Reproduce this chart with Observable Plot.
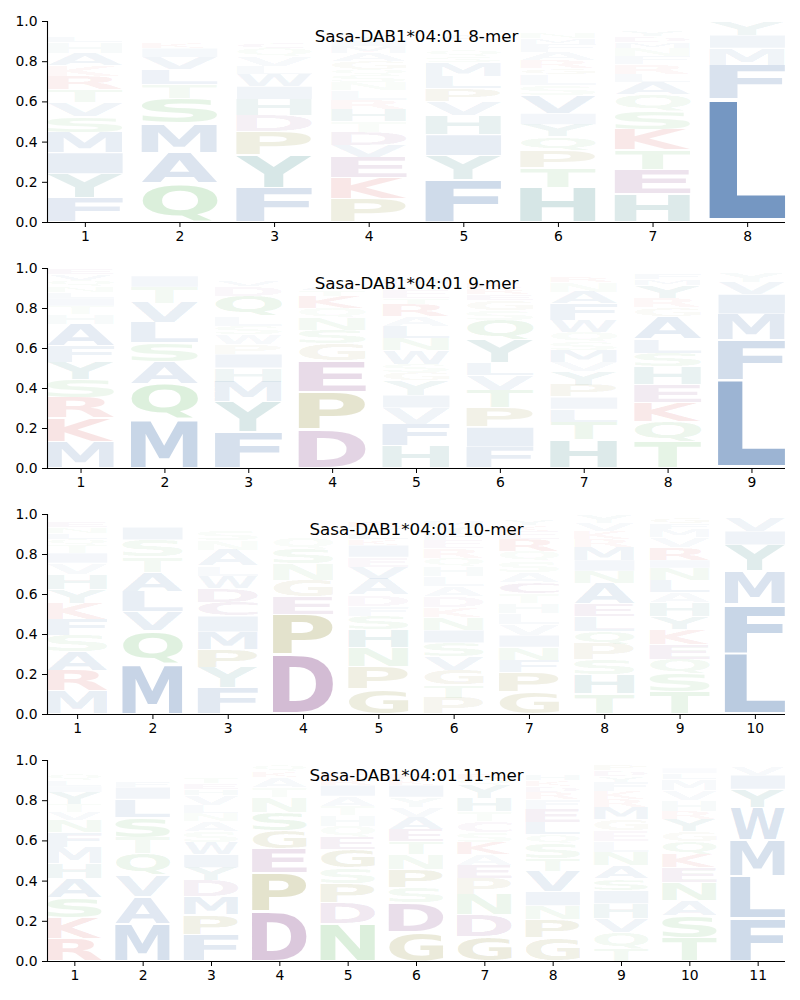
<!DOCTYPE html>
<html><head><meta charset="utf-8">
<script src="https://cdn.jsdelivr.net/npm/d3@7"></script>
<script src="https://cdn.jsdelivr.net/npm/@observablehq/plot@0.6"></script>
<style>body{margin:0;background:#fff;} #chart svg{display:block;}</style>
</head><body><div id="chart"></div>
<script>
const titles = ["Sasa-DAB1*04:01 8-mer", "Sasa-DAB1*04:01 9-mer", "Sasa-DAB1*04:01 10-mer", "Sasa-DAB1*04:01 11-mer"];

// letter stacks (bottom -> top) per position: [letter, probability]
const mer8 = [
  [["F",.12],["Y",.12],["I",.105],["M",.1],["S",.08],["V",.07],["T",.065],["R",.065],["K",.055],["A",.06],["H",.055],["L",.03],["E",.02],["G",.02],["N",.015],["Q",.01],["W",.01]],
  [["Q",.19],["A",.155],["M",.145],["S",.125],["T",.07],["L",.075],["V",.06],["I",.045],["K",.03],["N",.025],["G",.02],["F",.015],["Y",.02]],
  [["F",.17],["Y",.165],["P",.115],["D",.08],["H",.08],["I",.065],["W",.06],["L",.04],["V",.05],["Q",.04],["C",.03],["S",.02],["N",.02],["E",.015],["M",.02],["A",.015]],
  [["P",.115],["K",.105],["E",.1],["V",.06],["D",.065],["T",.055],["H",.06],["R",.045],["L",.05],["N",.04],["S",.035],["Q",.03],["G",.04],["A",.04],["M",.035],["I",.03],["Y",.03],["F",.025],["W",.02]],
  [["F",.21],["Y",.12],["I",.105],["H",.095],["V",.07],["P",.065],["L",.06],["M",.07],["S",.03],["Q",.03],["E",.025],["W",.025],["A",.03],["T",.025],["N",.02],["K",.02]],
  [["H",.17],["T",.1],["P",.085],["Q",.07],["Y",.06],["I",.055],["V",.09],["S",.05],["L",.055],["G",.03],["R",.04],["A",.04],["F",.04],["M",.03],["N",.03],["W",.025],["E",.015],["K",.015]],
  [["H",.14],["E",.12],["T",.1],["K",.1],["S",.09],["Q",.085],["A",.06],["L",.04],["R",.05],["F",.04],["N",.04],["M",.03],["D",.03],["Y",.03],["V",.02],["G",.025]],
  [["L",.61],["F",.17],["M",.085],["I",.065],["Y",.065]]
];
const mer9 = [
  [["M",.13],["K",.12],["R",.1],["S",.09],["Y",.09],["F",.08],["A",.11],["H",.05],["T",.04],["I",.04],["L",.03],["N",.03],["Q",.03],["V",.03],["E",.03]],
  [["M",.245],["Q",.175],["A",.11],["S",.095],["L",.1],["V",.1],["T",.08],["I",.055],["F",.015],["Y",.01]],
  [["F",.18],["Y",.15],["M",.1],["H",.07],["I",.07],["P",.05],["W",.05],["S",.04],["L",.05],["Q",.1],["D",.05],["V",.03],["T",.02],["N",.02]],
  [["D",.19],["P",.19],["E",.155],["G",.085],["S",.07],["N",.06],["Q",.05],["K",.06],["T",.03],["A",.03],["R",.02],["H",.02],["L",.02],["V",.02]],
  [["H",.11],["F",.11],["V",.08],["I",.065],["Y",.075],["G",.04],["S",.04],["W",.07],["N",.06],["L",.06],["A",.05],["R",.06],["T",.03],["E",.04],["Q",.03],["M",.03],["P",.02]],
  [["F",.105],["I",.1],["P",.095],["T",.09],["V",.075],["L",.06],["Y",.115],["Q",.1],["S",.05],["G",.05],["E",.03],["R",.03],["K",.03],["H",.025],["W",.025]],
  [["H",.14],["T",.09],["L",.065],["I",.06],["P",.06],["Y",.07],["V",.045],["M",.06],["S",.04],["Q",.05],["W",.06],["F",.08],["A",.06],["N",.05],["R",.03],["K",.02]],
  [["T",.13],["Q",.1],["K",.095],["E",.09],["H",.09],["S",.07],["L",.07],["A",.115],["G",.045],["R",.045],["Y",.065],["M",.03],["F",.03]],
  [["L",.44],["F",.2],["M",.13],["I",.1],["V",.06],["Y",.05]]
];
const mer10 = [
  [["M",.115],["R",.1],["A",.095],["S",.085],["F",.08],["K",.08],["Y",.07],["H",.075],["V",.055],["I",.05],["T",.04],["Q",.03],["L",.03],["N",.03],["E",.03],["G",.02]],
  [["M",.25],["Q",.165],["V",.095],["L",.1],["A",.1],["T",.075],["S",.085],["I",.065],["F",.015],["Y",.015]],
  [["F",.13],["Y",.1],["P",.09],["M",.09],["I",.08],["C",.07],["D",.07],["W",.06],["L",.05],["A",.08],["N",.05],["S",.05],["T",.02],["Q",.02]],
  [["D",.295],["P",.2],["E",.09],["G",.085],["N",.08],["S",.075],["Q",.055],["A",.025],["K",.02],["T",.02],["R",.015],["H",.015]],
  [["G",.125],["P",.11],["N",.095],["H",.09],["S",.07],["F",.05],["D",.055],["A",.08],["V",.06],["E",.05],["I",.06],["K",.03],["L",.03],["Y",.03],["R",.03]],
  [["P",.08],["T",.065],["G",.075],["V",.065],["S",.07],["I",.065],["N",.065],["K",.05],["D",.055],["A",.05],["L",.05],["H",.045],["Q",.045],["R",.05],["E",.04],["F",.035],["Y",.035],["M",.03]],
  [["G",.11],["P",.1],["F",.06],["N",.065],["I",.06],["V",.055],["L",.055],["H",.05],["T",.045],["C",.06],["A",.05],["S",.055],["Q",.05],["R",.06],["E",.04],["K",.03],["Y",.03]],
  [["T",.1],["H",.095],["S",.075],["P",.08],["Q",.065],["L",.075],["E",.06],["A",.105],["N",.06],["I",.055],["M",.065],["R",.04],["K",.04],["V",.04],["Y",.04]],
  [["T",.11],["S",.09],["Q",.075],["E",.075],["K",.075],["Y",.065],["H",.07],["A",.05],["L",.06],["N",.06],["I",.04],["R",.065],["V",.05],["M",.04],["F",.03],["G",.03]],
  [["L",.305],["F",.245],["M",.165],["Y",.13],["I",.07],["V",.065]]
];
const mer11 = [
  [["R",.11],["K",.105],["S",.1],["A",.095],["H",.075],["M",.08],["F",.075],["N",.06],["V",.04],["T",.04],["Y",.06],["I",.03],["L",.03],["Q",.03],["E",.02],["P",.02]],
  [["M",.185],["A",.135],["V",.105],["Q",.11],["T",.08],["S",.1],["L",.09],["I",.06],["F",.03],["Y",.025],["N",.025],["K",.02]],
  [["F",.13],["P",.1],["M",.09],["D",.08],["Y",.065],["I",.065],["W",.06],["S",.055],["A",.05],["N",.04],["L",.04],["V",.05],["H",.03],["E",.03],["T",.03],["K",.02],["R",.02]],
  [["D",.245],["P",.195],["E",.12],["G",.09],["S",.09],["N",.075],["T",.05],["A",.05],["K",.03],["Q",.03]],
  [["N",.185],["D",.105],["P",.095],["S",.08],["G",.09],["E",.06],["Q",.055],["H",.055],["T",.045],["A",.05],["I",.055],["R",.03],["K",.03],["L",.02],["V",.02]],
  [["G",.145],["D",.145],["S",.075],["P",.09],["N",.075],["T",.065],["E",.06],["A",.06],["V",.05],["Y",.05],["I",.06],["K",.03],["R",.03],["Q",.025],["L",.02]],
  [["G",.12],["D",.11],["N",.1],["P",.08],["E",.065],["A",.055],["K",.06],["S",.05],["C",.055],["T",.05],["H",.065],["Y",.065],["Q",.03],["R",.03],["L",.02],["F",.02]],
  [["G",.115],["P",.09],["N",.07],["I",.07],["V",.1],["T",.065],["S",.075],["Q",.045],["L",.06],["E",.065],["F",.05],["R",.035],["D",.03],["K",.03],["H",.03],["A",.02],["M",.02]],
  [["T",.06],["Q",.08],["V",.07],["H",.075],["I",.065],["S",.06],["A",.065],["N",.065],["L",.055],["E",.055],["G",.055],["M",.06],["R",.04],["K",.04],["F",.045],["Y",.03],["D",.03],["P",.03]],
  [["T",.115],["S",.11],["A",.075],["N",.09],["E",.075],["K",.065],["Q",.065],["G",.05],["Y",.06],["R",.04],["H",.055],["V",.05],["M",.055],["L",.03],["I",.025],["F",.02]],
  [["F",.21],["L",.215],["M",.175],["W",.165],["Y",.09],["I",.07],["V",.04],["K",.01]]
];

const BLUE = "#1e559b", TEAL = "#0e6c6c", RED = "#c51e1e", PURPLE = "#6a1c6d", OLIVE = "#736e00", GREEN = "#40a840";
const letterColors = {A:BLUE,V:BLUE,L:BLUE,I:BLUE,M:BLUE,F:BLUE,W:BLUE,H:TEAL,Y:TEAL,K:RED,R:RED,D:PURPLE,E:PURPLE,C:PURPLE,P:OLIVE,G:OLIVE,N:GREEN,Q:GREEN,S:GREEN,T:GREEN};

const panels = [mer8, mer9, mer10, mer11];
const heights = [246, 246, 246, 262];
const mTop = [21, 22, 22, 22];
const mBottom = [24, 24, 24, 39];
const FONT_PX = 100;
const FONT = "DejaVu Sans";
const VPAD = 0.06;
const TICK_FS = 13.9;

const ctx = document.createElement("canvas").getContext("2d");
ctx.font = `bold ${FONT_PX}px "${FONT}"`;
const gcache = {};
function glyph(ch) {
  if (!gcache[ch]) {
    const m = ctx.measureText(ch);
    gcache[ch] = {l: m.actualBoundingBoxLeft, r: m.actualBoundingBoxRight, a: m.actualBoundingBoxAscent, d: m.actualBoundingBoxDescent};
  }
  return gcache[ch];
}

const chart = document.getElementById("chart");
panels.forEach((stacks, i) => {
  const n = stacks.length;
  const rows = [];
  stacks.forEach((stack, k) => {
    let b = 0;
    stack.forEach(([letter, v]) => { rows.push({pos: k + 1, letter, y0: b, y1: b + v, value: v}); b += v; });
  });
  const svg = Plot.plot({
    width: 800, height: heights[i],
    marginLeft: 47, marginRight: 15, marginTop: mTop[i], marginBottom: mBottom[i],
    style: {fontFamily: FONT, fontSize: TICK_FS + "px", color: "black", background: "white"},
    x: {domain: [0.6, n + 0.4], ticks: d3.range(1, n + 1), tickFormat: "d", label: null, tickSize: 5, tickPadding: 4},
    y: {domain: [0, 1], ticks: [0, 0.2, 0.4, 0.6, 0.8, 1], tickFormat: ".1f", label: null, tickSize: 5, tickPadding: 5},
    color: {type: "identity"},
    opacity: {type: "identity"},
    marks: [
      Plot.text(rows, {x: "pos", y: d => (d.y0 + d.y1) / 2, text: "letter", fill: d => letterColors[d.letter], fillOpacity: "value", fontWeight: "bold", fontSize: FONT_PX}),
      Plot.ruleX([0.6], {stroke: "black", strokeWidth: 1.1}),
      Plot.ruleY([0], {stroke: "black", strokeWidth: 1.1}),
      Plot.text([titles[i]], {text: d => d, frameAnchor: "top", lineAnchor: "middle", dy: 15, fontSize: 16.7, fill: "black"})
    ]
  });
  // axis tick labels at matplotlib's 10pt size
  svg.querySelectorAll('g[aria-label*="axis"]').forEach(ax => {
    ax.setAttribute("font-size", TICK_FS);
    ax.style.fontSize = TICK_FS + "px";
    ax.querySelectorAll("text").forEach(t => { t.setAttribute("font-size", TICK_FS); t.style.fontSize = TICK_FS + "px"; });
  });
  const xs = svg.scale("x"), ys = svg.scale("y");
  const fx = d3.scaleLinear(xs.domain, xs.range), fy = d3.scaleLinear(ys.domain, ys.range);
  const g = svg.querySelector('g[aria-label="text"]');
  let tx = 0, ty = 0;
  const gt = g.getAttribute("transform");
  if (gt) { const m = /translate\(\s*([-\d.e]+)[\s,]*([-\d.e]+)?\s*\)/.exec(gt); if (m) { tx = +m[1]; ty = +(m[2] || 0); } }
  g.querySelectorAll("text").forEach((t, k) => {
    const d = rows[k];
    const gm = glyph(d.letter);
    const pad = (d.y1 - d.y0) * VPAD / 2;
    const X0 = fx(d.pos - 0.4), X1 = fx(d.pos + 0.4);
    const Yt = fy(d.y1 - pad), Yb = fy(d.y0 + pad);
    const kx = (X1 - X0) / (gm.l + gm.r), ky = (Yb - Yt) / (gm.a + gm.d);
    ["x", "y", "dx", "dy"].forEach(a => t.removeAttribute(a));
    t.setAttribute("text-anchor", "start");
    t.setAttribute("font-size", FONT_PX);
    t.setAttribute("font-family", FONT);
    t.setAttribute("font-weight", "bold");
    t.style.dominantBaseline = "alphabetic";
    t.setAttribute("transform", `translate(${X0 - tx},${Yt - ty}) scale(${kx},${ky}) translate(${gm.l},${gm.a})`);
  });
  chart.appendChild(svg);
});
</script></body></html>
